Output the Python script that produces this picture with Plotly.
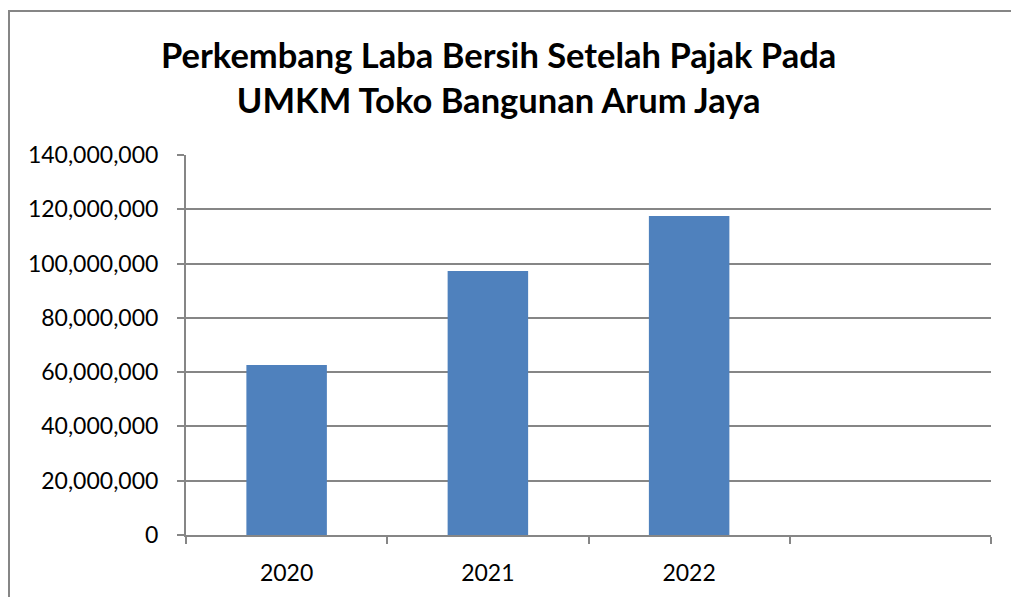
import plotly.graph_objects as go

categories = ["2020", "2021", "2022", " "]
values = [62600000, 97300000, 117500000, None]
y_ticks = [0, 20000000, 40000000, 60000000, 80000000, 100000000, 120000000, 140000000]
y_tick_labels = ["0", "20,000,000", "40,000,000", "60,000,000", "80,000,000",
                 "100,000,000", "120,000,000", "140,000,000"]
title_text = "Perkembang Laba Bersih Setelah Pajak Pada<br>UMKM Toko Bangunan Arum Jaya"

FONT = "Lato, Open Sans, sans-serif"
AX = "#868686"

fig = go.Figure(go.Bar(
    x=[0, 1, 2, 3], y=values,
    marker=dict(color="#4F81BD", line=dict(color="#4F81BD", width=0)),
    width=0.4,
))

fig.update_layout(
    width=1011, height=597,
    paper_bgcolor="white", plot_bgcolor="white",
    margin=dict(l=186, r=20, t=155, b=62),
    showlegend=False,
    annotations=[dict(text="<b>" + title_text + "</b>", xref="paper", yref="paper",
                      x=(498 - 186) / 805, y=1 + (155 - 32) / 380,
                      xanchor="center", yanchor="top", showarrow=False,
                      align="center",
                      font=dict(family=FONT, size=34.5, color="black"))],
    xaxis=dict(
        range=[-0.5, 3.5],
        tickmode="array", tickvals=[0, 1, 2, 3], ticktext=categories,
        showgrid=False, zeroline=False,
        showline=True, linecolor=AX, linewidth=2,
        ticks="", tickfont=dict(family=FONT, size=23, color="black"),
        ticklabelstandoff=16,
        minor=dict(tickmode="array", tickvals=[-0.5, 0.5, 1.5, 2.5, 3.5],
                   ticks="outside", ticklen=7, tickcolor=AX, tickwidth=2),
    ),
    yaxis=dict(
        range=[0, 140000000],
        tickmode="array", tickvals=y_ticks, ticktext=y_tick_labels,
        showgrid=True, gridcolor=AX, gridwidth=2,
        zeroline=False,
        showline=True, linecolor=AX, linewidth=2,
        ticks="outside", ticklen=7, tickcolor=AX, tickwidth=2,
        tickfont=dict(family=FONT, size=23, color="black"),
        ticklabelstandoff=14,
    ),
    shapes=[dict(type="rect", xref="paper", yref="paper",
                 x0=-177/805, x1=1.1, y0=-0.3, y1=1 + (155 - 11) / 380,
                 line=dict(color=AX, width=2), fillcolor="rgba(0,0,0,0)",
                 layer="below")],
)

fig.write_html("out.html")
